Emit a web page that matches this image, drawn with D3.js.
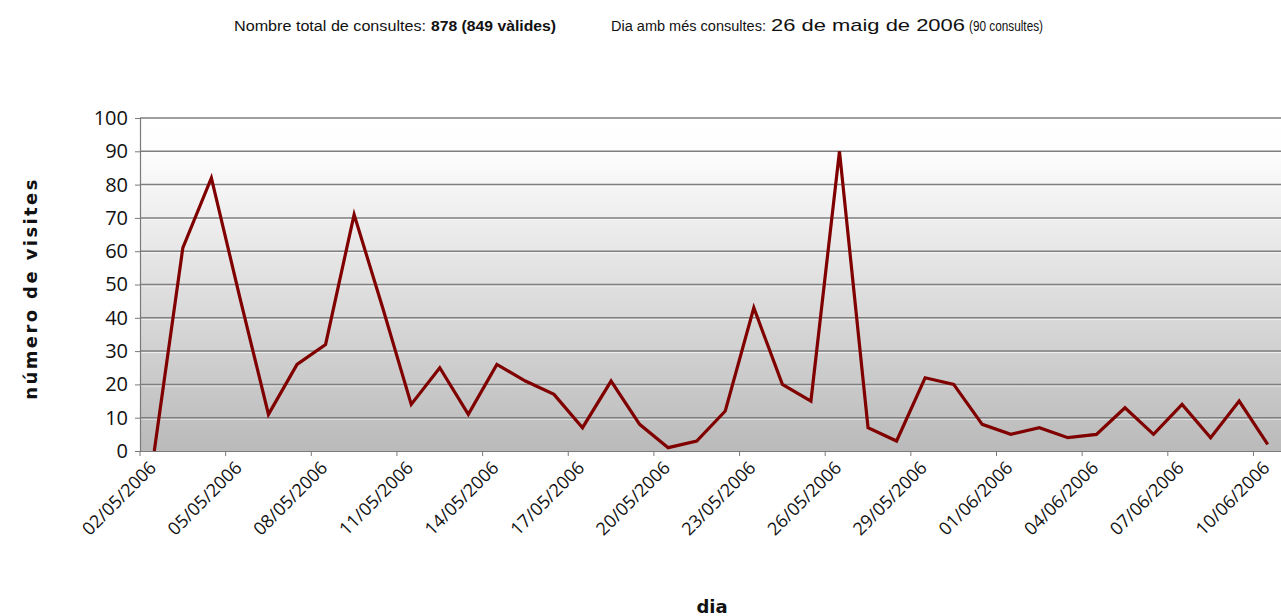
<!DOCTYPE html>
<html>
<head>
<meta charset="utf-8">
<script src="https://cdn.jsdelivr.net/npm/d3@7"></script>
<style>
  body { margin: 0; background: #fff; }
  svg { display: block; }
</style>
</head>
<body>
<div id="chartContainer"></div>
<script>
var dates = ["02/05/2006","03/05/2006","04/05/2006","05/05/2006","06/05/2006","07/05/2006","08/05/2006",
  "09/05/2006","10/05/2006","11/05/2006","12/05/2006","13/05/2006","14/05/2006","15/05/2006","16/05/2006",
  "17/05/2006","18/05/2006","19/05/2006","20/05/2006","21/05/2006","22/05/2006","23/05/2006","24/05/2006",
  "25/05/2006","26/05/2006","27/05/2006","28/05/2006","29/05/2006","30/05/2006","31/05/2006","01/06/2006",
  "02/06/2006","03/06/2006","04/06/2006","05/06/2006","06/06/2006","07/06/2006","08/06/2006","09/06/2006",
  "10/06/2006"];

var visits = [0, 61, 82, 46, 11, 26, 32, 71, 43, 14, 25, 11, 26, 21, 17, 7, 21, 8, 1, 3,
  12, 43, 20, 15, 90, 7, 3, 22, 20, 8, 5, 7, 4, 5, 13, 5, 14, 4, 15, 2];

// every third day gets a label
var labelDates = ["02/05/2006","05/05/2006","08/05/2006","11/05/2006","14/05/2006","17/05/2006",
  "20/05/2006","23/05/2006","26/05/2006","29/05/2006","01/06/2006","04/06/2006","07/06/2006","10/06/2006"];

var yTicks = [0, 10, 20, 30, 40, 50, 60, 70, 80, 90, 100];

var width = 1281, height = 616;
var plotLeft = 140, plotRight = 1282, plotTop = 118, plotBottom = 451;

var svg = d3.select("#chartContainer")
  .append("svg")
    .attr("width", width)
    .attr("height", height);

// header lines
var header = [
  {text: "Nombre total de consultes:", x: 234, w: 192, size: 14, bold: false},
  {text: "878 (849 vàlides)", x: 431, w: 125, size: 14, bold: true},
  {text: "Dia amb més consultes:", x: 611, w: 155, size: 14, bold: false},
  {text: "26 de maig de 2006", x: 771, w: 194, size: 17, bold: false},
  {text: "(90 consultes)", x: 969, w: 74, size: 14, bold: false}
];
svg.selectAll("text.header")
  .data(header)
  .enter().append("text")
    .attr("class", "header")
    .attr("x", function(d) { return d.x; })
    .attr("y", 31)
    .attr("textLength", function(d) { return d.w; })
    .attr("lengthAdjust", "spacingAndGlyphs")
    .style("font-family", "'Liberation Sans Narrow', 'Liberation Sans', Arial, sans-serif")
    .style("font-size", function(d) { return d.size + "px"; })
    .style("font-weight", function(d) { return d.bold ? "bold" : "normal"; })
    .style("fill", "#111")
    .text(function(d) { return d.text; });

// plot area gradient
var defs = svg.append("defs");
var grad = defs.append("linearGradient")
  .attr("id", "bg").attr("x1", 0).attr("y1", 0).attr("x2", 0).attr("y2", 1);
grad.append("stop").attr("offset", "0%").attr("stop-color", "#ffffff");
grad.append("stop").attr("offset", "10%").attr("stop-color", "#fdfdfd");
grad.append("stop").attr("offset", "100%").attr("stop-color", "#bababa");

svg.append("rect")
  .attr("x", plotLeft).attr("y", plotTop)
  .attr("width", width - plotLeft).attr("height", plotBottom - plotTop)
  .attr("fill", "url(#bg)");

var x = d3.scaleBand()
  .domain(dates)
  .range([plotLeft, plotRight]);

var y = d3.scaleLinear()
  .domain([0, 100])
  .range([plotBottom, plotTop]);

// gridlines with a light edge under them
var grid = svg.append("g");
grid.selectAll("line.hl")
  .data(yTicks.slice(1))
  .enter().append("line")
    .attr("x1", plotLeft).attr("x2", width)
    .attr("y1", function(d) { return y(d) + 1.5; })
    .attr("y2", function(d) { return y(d) + 1.5; })
    .attr("stroke", "#ffffff").attr("stroke-opacity", 0.7).attr("stroke-width", 1);
grid.selectAll("line.gl")
  .data(yTicks.slice(1))
  .enter().append("line")
    .attr("x1", plotLeft).attr("x2", width)
    .attr("y1", function(d) { return y(d); })
    .attr("y2", function(d) { return y(d); })
    .attr("stroke", "#7f7f7f").attr("stroke-width", 1.5);

// y axis
var yAxis = svg.append("g")
  .attr("transform", "translate(" + plotLeft + ",0)")
  .call(d3.axisLeft(y).tickValues(yTicks).tickSize(5).tickPadding(7));
yAxis.select(".domain").attr("stroke", "#7a7a7a").attr("stroke-width", 1.2);
yAxis.selectAll(".tick line").attr("stroke", "#7a7a7a");
yAxis.selectAll(".tick text")
  .style("font-family", "'Open Sans', sans-serif")
  .style("font-size", "20px")
  .style("fill", "#111");

// x axis, ticks sit on category boundaries
var bw = x.bandwidth();
var xAxis = svg.append("g")
  .attr("transform", "translate(0," + plotBottom + ")")
  .call(d3.axisBottom(x).tickValues(labelDates).tickSize(5).tickSizeOuter(0));
xAxis.select(".domain").attr("stroke", "#7a7a7a").attr("stroke-width", 1.2)
  .attr("d", "M" + plotLeft + ",0.5H" + width);
xAxis.selectAll(".tick line")
  .attr("stroke", "#7a7a7a")
  .attr("transform", "translate(" + (-bw / 2) + ",0)");
xAxis.selectAll(".tick text")
  .attr("y", 0).attr("dy", 0)
  .attr("transform", "translate(3,18) rotate(-45)")
  .style("text-anchor", "end")
  .style("font-family", "'Open Sans', sans-serif")
  .style("font-size", "18px")
  .style("fill", "#111");

// the line
svg.append("path")
  .datum(visits)
  .attr("fill", "none")
  .attr("stroke", "#800000")
  .attr("stroke-width", 3.2)
  .attr("stroke-linejoin", "miter")
  .attr("d", d3.line()
    .x(function(d, i) { return x(dates[i]) + bw / 2; })
    .y(function(d) { return y(d); }));

// axis titles
svg.append("text")
  .attr("transform", "translate(37," + ((plotTop + plotBottom) / 2 + 4) + ") rotate(-90)")
  .style("text-anchor", "middle")
  .style("font-family", "'DejaVu Sans', sans-serif")
  .style("font-weight", "bold")
  .style("font-size", "18px")
  .style("letter-spacing", "2.4px")
  .style("fill", "#111")
  .text("número de visites");

svg.append("text")
  .attr("x", 712).attr("y", 613)
  .style("text-anchor", "middle")
  .style("font-family", "'DejaVu Sans', sans-serif")
  .style("font-weight", "bold")
  .style("font-size", "18px")
  .style("fill", "#111")
  .text("dia");
</script>
</body>
</html>
